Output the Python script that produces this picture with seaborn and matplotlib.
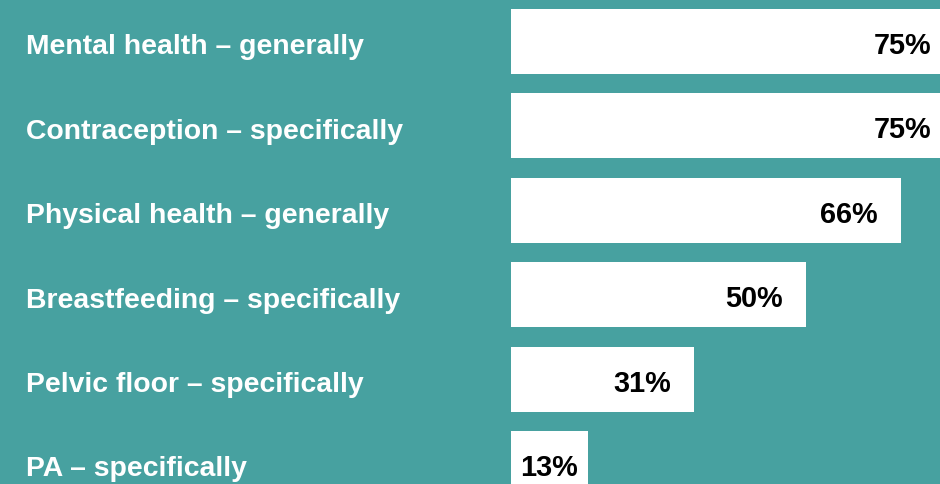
import matplotlib
matplotlib.use("Agg")
import matplotlib.pyplot as plt
import matplotlib.transforms as mtransforms
import seaborn as sns
import pandas as pd

categories = [
    "Mental health – generally",
    "Contraception – specifically",
    "Physical health – generally",
    "Breastfeeding – specifically",
    "Pelvic floor – specifically",
    "PA – specifically",
]
values = [75, 75, 66, 50, 31, 13]

BG = "#47A1A0"
sns.set_theme(style="white")
plt.rcParams["font.family"] = ["Liberation Sans", "DejaVu Sans"]

W, H, DPI = 940, 485, 100
fig = plt.figure(figsize=(W / DPI, H / DPI), dpi=DPI, facecolor=BG)
x0 = 510.7
ax = fig.add_axes([x0 / W, 0, (W - x0) / W, 1])
ax.set_facecolor(BG)

df = pd.DataFrame({"cat": categories, "val": values})
sns.barplot(data=df, x="val", y="cat", orient="h", color="white",
            saturation=1, width=0.77, ax=ax, edgecolor="none")

px_per_unit = 5.91
ax.set_xlim(0, (W - x0) / px_per_unit)
spacing = 84.4
ax.set_ylim((H - 42.5) / spacing, -42.5 / spacing)
ax.axis("off")

pt = 72 / DPI
pad_pt = 23 * pt
for i, v in enumerate(values):
    bar_px = v * px_per_unit
    if bar_px < 120:
        ax.annotate(f"{v}%", xy=(v / 2, i), xytext=(0, -0.5 * pt),
                    textcoords="offset points", ha="center", va="center_baseline",
                    fontsize=20.8, fontweight="bold", color="black",
                    annotation_clip=False)
    else:
        ax.annotate(f"{v}%", xy=(v, i), xytext=(-pad_pt, -0.5 * pt),
                    textcoords="offset points", ha="right", va="center_baseline",
                    fontsize=20.8, fontweight="bold", color="black",
                    annotation_clip=False)

trans = mtransforms.blended_transform_factory(fig.transFigure, ax.transData)
for i, c in enumerate(categories):
    ax.annotate(c, xy=(26 / W, i), xycoords=trans, xytext=(0, -2 * pt),
                textcoords="offset points", ha="left", va="center_baseline",
                fontsize=20.4, fontweight="bold", color="white",
                annotation_clip=False)

fig.savefig("out.png", dpi=DPI, facecolor=BG)
